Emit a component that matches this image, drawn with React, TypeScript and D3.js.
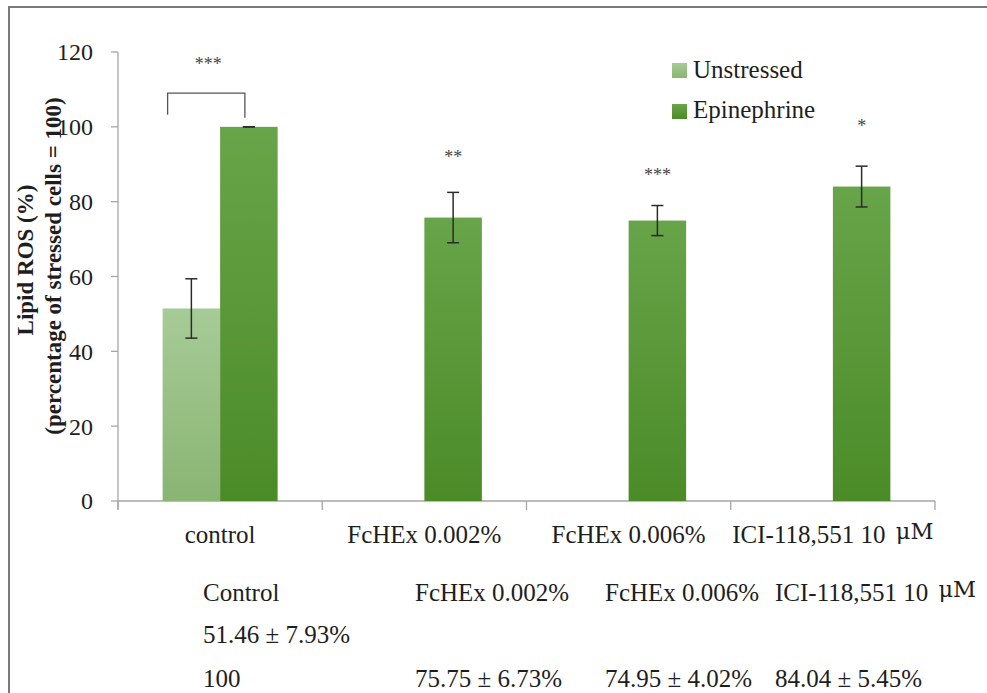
import React from "react";
import * as d3 from "d3";

const categories = ["control", "FcHEx 0.002%", "FcHEx 0.006%", "ICI-118,551 10 μM"];
const tableHeaders = ["Control", "FcHEx 0.002%", "FcHEx 0.006%", "ICI-118,551 10 μM"];
const seriesNames = ["Unstressed", "Epinephrine"];
const unstressed: (number | null)[] = [51.46, null, null, null];
const unstressedErr: (number | null)[] = [7.93, null, null, null];
const epinephrine: number[] = [100, 75.75, 74.95, 84.04];
const epinephrineErr: number[] = [0, 6.73, 4.02, 5.45];
const significance = ["***", "**", "***", "*"];
const significanceY = [115.2, 90.3, 85.5, 98.6];
const bracketValues = [103.2, 109, 102.4];
const yTicks = [0, 20, 40, 60, 80, 100, 120];

const W = 987;
const H = 693;
const serif = "'Liberation Serif', 'Times New Roman', serif";
const ink = "#1e1e1e";

export default function App() {
  const y = d3.scaleLinear().domain([0, 120]).range([501, 52]);
  const x = d3.scaleBand<string>().domain(categories).range([118, 935]).paddingInner(0).paddingOuter(0);
  const xs = d3.scaleBand<string>().domain(seriesNames).range([0, x.bandwidth()]).paddingInner(0).paddingOuter(0.776);
  const bw = xs.bandwidth();
  const capW = 12;

  const boundaries = categories.map((c) => x(c)!).concat([x.range()[1]]);

  const fmt = (m: number, s: number) => (s === 0 ? `${m}` : `${m.toFixed(2)} ± ${s.toFixed(2)}%`);
  const colX = [203, 415, 605, 775];
  const rowY = [601, 643, 687];

  const renderLabel = (label: string, xx: number, yy: number, anchor: string, size: number) => {
    const idx = label.indexOf("μM");
    if (idx < 0) {
      return (
        <text x={xx} y={yy} textAnchor={anchor} fontFamily={serif} fontSize={size} fill={ink}>
          {label}
        </text>
      );
    }
    return (
      <text x={xx} y={yy} textAnchor={anchor} fontFamily={serif} fontSize={size} fill={ink}>
        {label.slice(0, idx)}
        <tspan dx={4} dy={-4} fontFamily="'DejaVu Serif', serif" fontSize={size * 0.9}>
          μM
        </tspan>
      </text>
    );
  };

  return (
    <svg width={W} height={H} style={{ position: "absolute", left: 0, top: 0, background: "#fff" }}>
      <defs>
        <linearGradient id="gU" x1="0" y1="0" x2="0" y2="1">
          <stop offset="0%" stopColor="#a7cb97" />
          <stop offset="100%" stopColor="#89b573" />
        </linearGradient>
        <linearGradient id="gE" x1="0" y1="0" x2="0" y2="1">
          <stop offset="0%" stopColor="#68a449" />
          <stop offset="100%" stopColor="#4b8b27" />
        </linearGradient>
      </defs>
      <rect x={0} y={0} width={W} height={H} fill="#fff" />
      {/* frame */}
      <rect x={9} y={7} width={1000} height={720} fill="none" stroke="#7a7a7a" strokeWidth={2} />

      {/* y axis */}
      <line x1={118} x2={118} y1={y(120)} y2={y(0) + 8} stroke="#a6a6a6" strokeWidth={1.3} />
      {yTicks.map((t) => (
        <g key={t}>
          <line x1={111} x2={118} y1={y(t)} y2={y(t)} stroke="#a6a6a6" strokeWidth={1.3} />
          <text x={93} y={y(t)} dy="0.35em" textAnchor="end" fontFamily={serif} fontSize={24} fill={ink}>
            {t}
          </text>
        </g>
      ))}

      {/* x axis */}
      <line x1={118} x2={935} y1={y(0)} y2={y(0)} stroke="#a6a6a6" strokeWidth={1.3} />
      {boundaries.map((b, i) => (
        <line key={i} x1={b} x2={b} y1={y(0)} y2={y(0) + 9} stroke="#a6a6a6" strokeWidth={1.3} />
      ))}

      {/* bars */}
      {categories.map((c, i) => {
        const cx = x(c)!;
        const els: React.ReactNode[] = [];
        const u = unstressed[i];
        if (u !== null) {
          els.push(
            <rect key="u" x={cx + xs("Unstressed")!} y={y(u)} width={bw} height={y(0) - y(u)} fill="url(#gU)" />
          );
        }
        const e = epinephrine[i];
        els.push(
          <rect key="e" x={cx + xs("Epinephrine")!} y={y(e)} width={bw} height={y(0) - y(e)} fill="url(#gE)" />
        );
        return <g key={c}>{els}</g>;
      })}

      {/* error bars */}
      {categories.map((c, i) => {
        const cx = x(c)!;
        const out: React.ReactNode[] = [];
        const u = unstressed[i];
        const ue = unstressedErr[i];
        if (u !== null && ue !== null) {
          const mx = cx + xs("Unstressed")! + bw / 2;
          out.push(
            <g key="ue" stroke="#2b2b2b" strokeWidth={1.5}>
              <line x1={mx} x2={mx} y1={y(u + ue)} y2={y(u - ue)} />
              <line x1={mx - capW / 2} x2={mx + capW / 2} y1={y(u + ue)} y2={y(u + ue)} />
              <line x1={mx - capW / 2} x2={mx + capW / 2} y1={y(u - ue)} y2={y(u - ue)} />
            </g>
          );
        }
        const e = epinephrine[i];
        const ee = epinephrineErr[i];
        const mx = cx + xs("Epinephrine")! + bw / 2;
        out.push(
          <g key="ee" stroke="#2b2b2b" strokeWidth={1.5}>
            <line x1={mx} x2={mx} y1={y(e + ee)} y2={y(e - ee)} />
            <line x1={mx - capW / 2} x2={mx + capW / 2} y1={y(e + ee)} y2={y(e + ee)} />
            <line x1={mx - capW / 2} x2={mx + capW / 2} y1={y(e - ee)} y2={y(e - ee)} />
          </g>
        );
        return <g key={c}>{out}</g>;
      })}

      {/* significance */}
      {categories.map((c, i) => {
        const cx = i === 0 ? x(c)! + x.bandwidth() / 2 - 12 : x(c)! + xs("Epinephrine")! + bw / 2;
        return (
          <text key={c} x={cx} y={y(significanceY[i])} textAnchor="middle" fontFamily={serif} fontSize={18} fill="#444">
            {significance[i]}
          </text>
        );
      })}
      {/* bracket */}
      {(() => {
        const c = categories[0];
        const xl = x(c)! + xs("Unstressed")! + 5;
        const xr = x(c)! + xs("Epinephrine")! + bw / 2 - 4;
        const p = d3.path();
        p.moveTo(xl, y(bracketValues[0]));
        p.lineTo(xl, y(bracketValues[1]));
        p.lineTo(xr, y(bracketValues[1]));
        p.lineTo(xr, y(bracketValues[2]));
        return <path d={p.toString()} fill="none" stroke="#555" strokeWidth={1.3} />;
      })()}

      {/* category labels */}
      {categories.map((c) => (
        <g key={c}>{renderLabel(c, x(c)! + x.bandwidth() / 2, 543, "middle", 25)}</g>
      ))}

      {/* legend */}
      {seriesNames.map((s, i) => (
        <g key={s}>
          <rect x={672} y={63 + i * 41} width={15} height={15} fill={i === 0 ? "url(#gU)" : "url(#gE)"} />
          <text x={693} y={78 + i * 40} fontFamily={serif} fontSize={25} fill={ink}>
            {s}
          </text>
        </g>
      ))}

      {/* y axis title */}
      <g fontFamily={serif} fontWeight="bold" fontSize={23} fill={ink} textAnchor="middle">
        <text transform="rotate(-90)" x={-260} y={33}>
          Lipid ROS (%)
        </text>
        <text transform="rotate(-90)" x={-266} y={61}>
          (percentage of stressed cells = 100)
        </text>
      </g>

      {/* table */}
      {tableHeaders.map((h, i) => (
        <g key={h}>{renderLabel(h, colX[i], rowY[0], "start", 25)}</g>
      ))}
      {unstressed.map((v, i) =>
        v !== null ? (
          <text key={"u" + i} x={colX[i]} y={rowY[1]} fontFamily={serif} fontSize={25} fill={ink}>
            {fmt(v, unstressedErr[i] as number)}
          </text>
        ) : null
      )}
      {epinephrine.map((v, i) => (
        <text key={"e" + i} x={colX[i]} y={rowY[2]} fontFamily={serif} fontSize={25} fill={ink}>
          {fmt(v, epinephrineErr[i])}
        </text>
      ))}
    </svg>
  );
}
